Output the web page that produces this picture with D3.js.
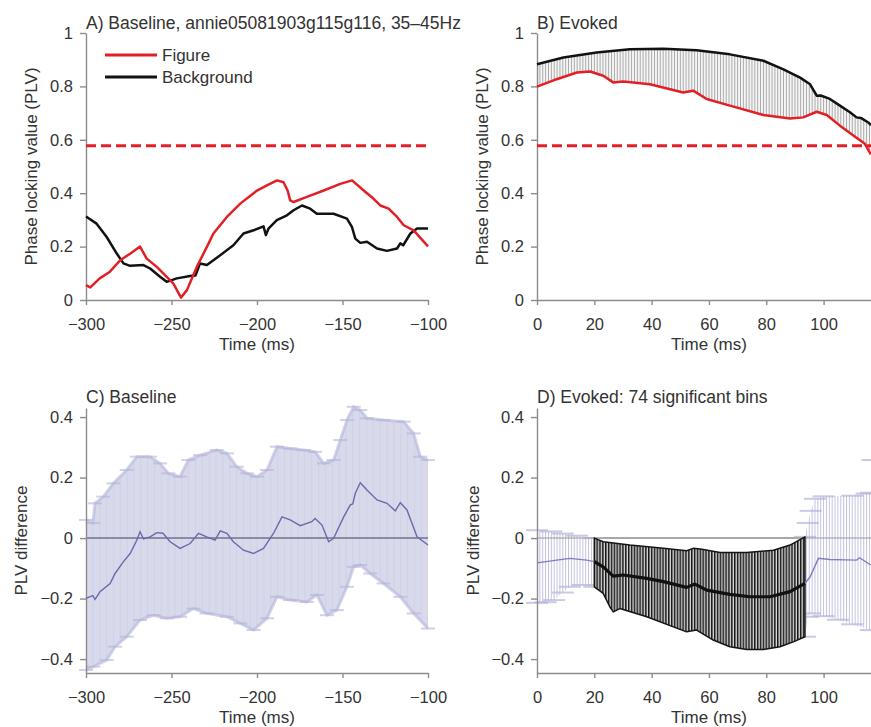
<!DOCTYPE html>
<html><head><meta charset="utf-8">
<script src="https://cdn.jsdelivr.net/npm/d3@7"></script>
<style>
body{margin:0;background:#fff;}
svg{display:block;}
text{font-family:"Liberation Sans",Arial,Helvetica,sans-serif;fill:#333;}
</style></head><body>
<svg id="chart" width="871" height="727"></svg>
<script>
// ---------------- DATA ----------------
const threshold = 0.578;
const titles = ["A) Baseline, annie05081903g115g116, 35\u201345Hz", "B) Evoked", "C) Baseline", "D) Evoked: 74 significant bins"];
const legendLabels = ["Figure", "Background"];
const xTicksBaseline = [-300, -250, -200, -150, -100];
const xTicksEvoked = [0, 20, 40, 60, 80, 100];
const yTicksPLV = [0, 0.2, 0.4, 0.6, 0.8, 1];
const yTicksDiff = [-0.4, -0.2, 0, 0.2, 0.4];

// Panel A: [time ms, PLV]
const aFigure = [[-300,0.056],[-297.5,0.047],[-292,0.081],[-286,0.106],[-280,0.149],[-274,0.174],[-268.4,0.200],[-264.5,0.155],[-258.6,0.124],[-252.8,0.087],[-249,0.062],[-244.4,0.009],[-241,0.037],[-235.2,0.124],[-229.3,0.199],[-225.5,0.249],[-217.6,0.311],[-209.8,0.361],[-200,0.410],[-194.2,0.429],[-188.3,0.448],[-184.5,0.441],[-182.1,0.410],[-180.6,0.373],[-178.6,0.367],[-170.8,0.386],[-161,0.410],[-151.3,0.435],[-144.4,0.448],[-137.6,0.410],[-131.8,0.379],[-127.9,0.354],[-123,0.342],[-118.1,0.311],[-114.2,0.280],[-108.4,0.261],[-100,0.201]];
const aBackground = [[-300,0.313],[-293.8,0.286],[-287.9,0.236],[-282,0.174],[-278.1,0.137],[-274.2,0.128],[-266.4,0.131],[-262.5,0.118],[-256.7,0.087],[-252.8,0.068],[-246.9,0.081],[-239.1,0.090],[-236,0.092],[-233.3,0.137],[-229.3,0.131],[-221.5,0.168],[-213.8,0.205],[-207.9,0.249],[-202,0.261],[-196.2,0.276],[-194.8,0.243],[-193.3,0.267],[-188.4,0.299],[-182.5,0.317],[-178.6,0.336],[-173.7,0.354],[-168.9,0.342],[-165,0.323],[-155.2,0.323],[-147.4,0.305],[-144.5,0.274],[-142.5,0.230],[-139.6,0.214],[-135.7,0.218],[-129.8,0.193],[-124,0.184],[-118.1,0.193],[-116.2,0.212],[-114.5,0.205],[-110.3,0.249],[-106.4,0.268],[-100,0.268]];

// Panel B: [time ms, PLV]
const bFigure = [[0,0.799],[6.9,0.827],[13.9,0.852],[18.5,0.856],[23.1,0.840],[26.6,0.815],[30.1,0.818],[39.4,0.808],[51,0.777],[54.5,0.784],[59.2,0.753],[67.3,0.728],[79,0.693],[88.3,0.680],[92.9,0.684],[97.6,0.705],[101.1,0.693],[105.7,0.653],[110.4,0.616],[114.4,0.585],[116.5,0.545]];
const bBackground = [[0,0.883],[9.2,0.908],[20.8,0.927],[32.4,0.939],[44.1,0.941],[55.7,0.935],[67.3,0.920],[79,0.896],[86,0.864],[91.8,0.833],[95.3,0.808],[97.6,0.765],[99,0.766],[102.2,0.753],[105.7,0.728],[109.2,0.703],[111.5,0.684],[113,0.682],[115.6,0.665],[116.5,0.655]];

// Panel C: [time ms, PLV difference]
const cMean = [[-300,-0.199],[-296,-0.190],[-294.7,-0.203],[-291.8,-0.177],[-285.9,-0.150],[-283,-0.117],[-278.1,-0.078],[-274.2,-0.051],[-270.3,-0.007],[-268.4,0.021],[-266.4,-0.003],[-262.5,0.004],[-258.6,0.018],[-255,0.016],[-250.8,-0.012],[-245,-0.034],[-239.1,-0.018],[-234.2,0.016],[-229.4,0.004],[-224.5,-0.007],[-221.5,0.024],[-217.6,0.016],[-213.8,-0.012],[-207.9,-0.040],[-202,-0.051],[-196.2,-0.034],[-190.3,0.016],[-185.4,0.070],[-180.6,0.060],[-174.7,0.041],[-168,0.054],[-166,0.065],[-162,0.043],[-158.1,-0.012],[-155.2,-0.001],[-149.3,0.070],[-145.4,0.110],[-144,0.113],[-142.5,0.148],[-139.6,0.183],[-135.7,0.159],[-129.8,0.126],[-124,0.115],[-119.1,0.090],[-116.2,0.117],[-112.3,0.093],[-106.4,0.004],[-100,-0.023]];
const cUpper = [[-300,0.06],[-296,0.05],[-294.7,0.115],[-289.9,0.137],[-284,0.181],[-276.2,0.225],[-270.3,0.269],[-262.5,0.269],[-256.7,0.247],[-251.8,0.214],[-245,0.203],[-240.1,0.258],[-233.3,0.274],[-223.5,0.291],[-217.6,0.280],[-211.8,0.236],[-205.9,0.214],[-200,0.203],[-194.2,0.225],[-188.3,0.302],[-180.6,0.296],[-172.7,0.291],[-165.9,0.285],[-161,0.247],[-155.2,0.258],[-151.3,0.324],[-147.4,0.390],[-143.5,0.434],[-139.6,0.423],[-135.7,0.396],[-126,0.390],[-114.2,0.385],[-108.4,0.346],[-104.5,0.269],[-100,0.258]];
const cLower = [[-300,-0.436],[-295.7,-0.425],[-287.9,-0.403],[-283,-0.359],[-276.2,-0.326],[-268.4,-0.271],[-260.6,-0.255],[-252.8,-0.265],[-245,-0.260],[-237.2,-0.233],[-229.4,-0.249],[-217.6,-0.260],[-209.8,-0.282],[-202,-0.304],[-194.2,-0.265],[-188.3,-0.194],[-180.6,-0.205],[-170.8,-0.211],[-165,-0.188],[-159.1,-0.255],[-153.3,-0.238],[-147.4,-0.161],[-143.5,-0.095],[-139.6,-0.089],[-133.8,-0.117],[-126,-0.150],[-116.2,-0.194],[-108.4,-0.249],[-100,-0.299]];

// Panel D: [time ms, PLV difference]; non-significant before/after, significant bins in between
const dPreMean = [[0,-0.082],[6.9,-0.073],[11.5,-0.067],[17.3,-0.073],[20,-0.078]];
const dPreUpper = [[0,0.026],[5,0.022],[9,0.015],[14,0.008],[20,0.0]];
const dPreLower = [[0,-0.214],[3,-0.212],[6,-0.205],[9,-0.180],[11.5,-0.161],[16,-0.155],[20,-0.161]];
const dSigMean = [[20,-0.078],[23.1,-0.095],[26.6,-0.126],[30.1,-0.122],[38.3,-0.133],[44.1,-0.144],[52.2,-0.163],[55.1,-0.152],[59.2,-0.172],[67.3,-0.186],[74.3,-0.194],[81.3,-0.194],[88.3,-0.177],[93.5,-0.150]];
const dSigUpper = [[20,0.0],[23.1,-0.012],[32.4,-0.023],[44.1,-0.034],[52.2,-0.042],[54.5,-0.034],[57,-0.036],[63.9,-0.048],[73.2,-0.048],[82.5,-0.040],[88.3,-0.023],[93.5,0.004]];
const dSigLower = [[20,-0.161],[23.1,-0.183],[25.4,-0.227],[26.6,-0.244],[28.9,-0.233],[38.3,-0.260],[52.2,-0.310],[55.7,-0.304],[61.5,-0.337],[67.3,-0.359],[73.2,-0.368],[79,-0.368],[84.8,-0.359],[89.4,-0.343],[93.5,-0.326]];
const dPostMean = [[93.5,-0.150],[95.3,-0.128],[98.2,-0.067],[102.2,-0.071],[108,-0.072],[111.5,-0.073],[112.5,-0.065],[116.5,-0.089]];
const dPostUpper = [[93.5,0.004],[94.5,0.05],[95.5,0.09],[97,0.13],[100,0.138],[110,0.140],[115,0.147],[116.5,0.150]];
const dPostLower = [[93.5,-0.326],[94.5,-0.26],[95.3,-0.249],[100,-0.258],[105,-0.27],[110,-0.285],[116.5,-0.304]];
const dPostStrayCap = [[116,0.258]];

// ---------------- DRAWING ----------------
const svg = d3.select("#chart");
const defs = svg.append("defs");
const C = {red:"#e31f26", black:"#121212", axis:"#8c8c8c", lav:"#d9d9ec", lavEdge:"#b4b4da", lavLine:"#6a6aa8"};

const xBase = d3.scaleLinear().domain([-300,-100]).range([86,428]);
const xEvk  = d3.scaleLinear().domain([0,120]).range([537,880.9]);
const yPLV  = d3.scaleLinear().domain([0,1]).range([300,33]);
const yDiff = d3.scaleLinear().domain([-0.446,0.43]).range([673,408]);

function vPattern(id, x, step, color, w, bg){
  const p = defs.append("pattern").attr("id",id).attr("patternUnits","userSpaceOnUse")
    .attr("x", x - w/2).attr("y",0).attr("width",step).attr("height",20);
  if(bg) p.append("rect").attr("width",step).attr("height",20).attr("fill",bg);
  p.append("rect").attr("x",0).attr("y",0).attr("width",w).attr("height",20).attr("fill",color);
}
vPattern("hB", xEvk(0), xEvk(1)-xEvk(0), "#a2a2a2", 0.9, "#f5f5f5");
vPattern("hC", xBase(-300), (xBase(-299)-xBase(-300))*4, "#d1d1e7", 1, C.lav);
vPattern("hDp", xEvk(0), xEvk(1)-xEvk(0), "#b8b8dc", 1.0, "#ffffff");
vPattern("hDs", xEvk(0), xEvk(1)-xEvk(0), "#151515", 1.5, "#d8d8d8");

function lineGen(x,y){ return d3.line().x(d=>x(d[0])).y(d=>y(d[1])); }
function bandPath(x,y,upper,lower){
  const pts = upper.map(d=>[x(d[0]),y(d[1])]).concat(lower.slice().reverse().map(d=>[x(d[0]),y(d[1])]));
  return d3.line()(pts) + "Z";
}
function axes(x,y,xt,yt,xLabel,yLabel,yLabelX){
  const fmt = d3.format("~g");
  const gx = svg.append("g").attr("transform",`translate(0,${y.range()[0]})`)
    .call(d3.axisBottom(x).tickValues(xt).tickFormat(fmt).tickSize(5).tickSizeOuter(0).tickPadding(13));
  const gy = svg.append("g").attr("transform",`translate(${x.range()[0]},0)`)
    .call(d3.axisLeft(y).tickValues(yt).tickFormat(fmt).tickSize(6).tickSizeOuter(0).tickPadding(7));
  [gx,gy].forEach(g=>{
    g.selectAll("path,line").attr("stroke",C.axis).attr("stroke-width",1.4);
    g.selectAll("text").attr("font-size",16.5).attr("fill","#333").attr("font-family",'"Liberation Sans",Arial,sans-serif');
  });
  const xr = x.range();
  svg.append("text").attr("x",(xr[0]+xr[1])/2).attr("y",y.range()[0]+50).attr("text-anchor","middle")
    .attr("font-size",17).text(xLabel);
  const yr = y.range();
  svg.append("text").attr("transform",`translate(${yLabelX},${(yr[0]+yr[1])/2}) rotate(-90)`)
    .attr("text-anchor","middle").attr("font-size",17).text(yLabel);
}
function title(x,y,t){ svg.append("text").attr("x",x).attr("y",y).attr("font-size",17.5).text(t); }

// ---- Panel A ----
axes(xBase,yPLV,xTicksBaseline,yTicksPLV,"Time (ms)","Phase locking value (PLV)",37);
svg.append("line").attr("x1",xBase(-300)).attr("x2",xBase(-100)).attr("y1",yPLV(threshold)).attr("y2",yPLV(threshold))
  .attr("stroke",C.red).attr("stroke-width",3).attr("stroke-dasharray","10,5");
svg.append("path").datum(aBackground).attr("d",lineGen(xBase,yPLV)).attr("fill","none").attr("stroke",C.black).attr("stroke-width",2.5).attr("stroke-linejoin","round");
svg.append("path").datum(aFigure).attr("d",lineGen(xBase,yPLV)).attr("fill","none").attr("stroke",C.red).attr("stroke-width",2.5).attr("stroke-linejoin","round");
title(86,29,titles[0]);
// legend
[[C.red,55,legendLabels[0]],[C.black,77,legendLabels[1]]].forEach(([col,yy,lab])=>{
  svg.append("line").attr("x1",105).attr("x2",157).attr("y1",yy).attr("y2",yy).attr("stroke",col).attr("stroke-width",3);
  svg.append("text").attr("x",162).attr("y",yy+6).attr("font-size",17).text(lab);
});

// ---- Panel B ----
svg.append("path").attr("d",bandPath(xEvk,yPLV,bBackground,bFigure)).attr("fill","url(#hB)");
axes(xEvk,yPLV,xTicksEvoked,yTicksPLV,"Time (ms)","Phase locking value (PLV)",488);
svg.append("line").attr("x1",xEvk(0)).attr("x2",xEvk(120)).attr("y1",yPLV(threshold)).attr("y2",yPLV(threshold))
  .attr("stroke",C.red).attr("stroke-width",3).attr("stroke-dasharray","10,5");
svg.append("path").datum(bBackground).attr("d",lineGen(xEvk,yPLV)).attr("fill","none").attr("stroke",C.black).attr("stroke-width",2.5).attr("stroke-linejoin","round");
svg.append("path").datum(bFigure).attr("d",lineGen(xEvk,yPLV)).attr("fill","none").attr("stroke",C.red).attr("stroke-width",2.5).attr("stroke-linejoin","round");
title(537,29,titles[1]);

// caps helper
function caps(x,y,pts,half,col,op){
  svg.append("g").selectAll("line").data(pts).join("line")
    .attr("x1",d=>x(d[0])-half).attr("x2",d=>x(d[0])+half)
    .attr("y1",d=>y(d[1])).attr("y2",d=>y(d[1]))
    .attr("stroke",col).attr("stroke-width",2).attr("opacity",op||0.7);
}

// ---- Panel C ----
svg.append("path").attr("d",bandPath(xBase,yDiff,cUpper,cLower)).attr("fill","url(#hC)");
[cUpper,cLower].forEach(arr=>{
  svg.append("path").datum(arr).attr("d",lineGen(xBase,yDiff)).attr("fill","none")
    .attr("stroke",C.lavEdge).attr("stroke-width",3).attr("opacity",0.6);
  caps(xBase,yDiff,arr,7,C.lavEdge,0.6);
});
axes(xBase,yDiff,xTicksBaseline,yTicksDiff,"Time (ms)","PLV difference",27);
svg.append("line").attr("x1",xBase(-300)).attr("x2",xBase(-100)).attr("y1",yDiff(0)).attr("y2",yDiff(0))
  .attr("stroke","#8b8ba6").attr("stroke-width",2);
svg.append("path").datum(cMean).attr("d",lineGen(xBase,yDiff)).attr("fill","none").attr("stroke",C.lavLine).attr("stroke-width",1.4);
title(86,403,titles[2]);

// ---- Panel D ----
svg.append("line").attr("x1",xEvk(0)).attr("x2",xEvk(120)).attr("y1",yDiff(0)).attr("y2",yDiff(0))
  .attr("stroke","#a8a8a8").attr("stroke-width",2);
[[dPreUpper,dPreLower],[dPostUpper,dPostLower]].forEach(([u,l])=>{
  svg.append("path").attr("d",bandPath(xEvk,yDiff,u,l)).attr("fill","url(#hDp)").attr("opacity",0.85);
  caps(xEvk,yDiff,u,11,"#b4b4da");
  caps(xEvk,yDiff,l,11,"#b4b4da");
});
caps(xEvk,yDiff,dPostStrayCap,8,"#b4b4da");
svg.append("line").attr("x1",xEvk(0)).attr("x2",xEvk(120)).attr("y1",yDiff(0)).attr("y2",yDiff(0))
  .attr("stroke","#a8a8a8").attr("stroke-width",1.5).attr("opacity",0.7);
svg.append("path").attr("d",bandPath(xEvk,yDiff,dSigUpper,dSigLower)).attr("fill","url(#hDs)")
  .attr("stroke","#151515").attr("stroke-width",1.5).attr("stroke-linejoin","round");
axes(xEvk,yDiff,xTicksEvoked,yTicksDiff,"Time (ms)","PLV difference",479);
[dPreMean,dPostMean].forEach(arr=>{
  svg.append("path").datum(arr).attr("d",lineGen(xEvk,yDiff)).attr("fill","none").attr("stroke","#7f7fbf").attr("stroke-width",1.4);
});
svg.append("path").datum(dSigMean).attr("d",lineGen(xEvk,yDiff)).attr("fill","none").attr("stroke","#111").attr("stroke-width",3.2).attr("stroke-linejoin","round");
title(537,403,titles[3]);
</script>
</body></html>
